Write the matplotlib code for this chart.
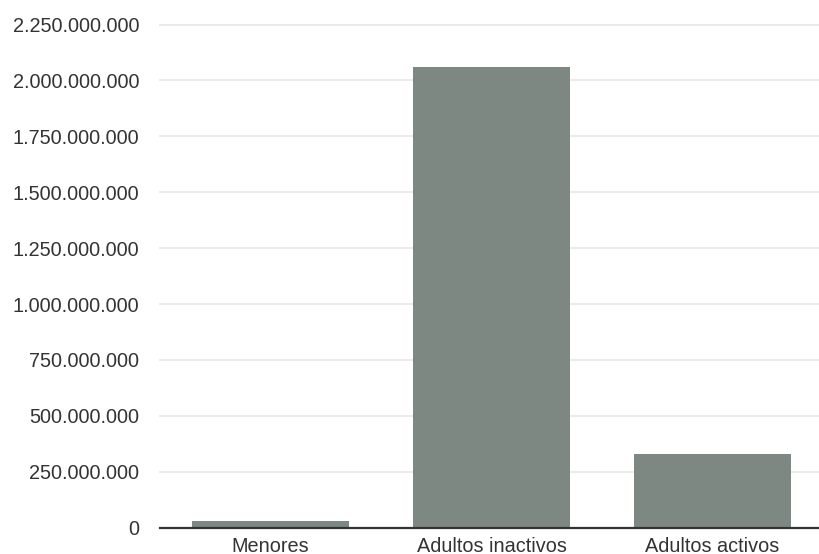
import matplotlib
matplotlib.use("Agg")
import matplotlib.pyplot as plt
from matplotlib.ticker import FuncFormatter

categories = ["Menores", "Adultos inactivos", "Adultos activos"]
values = [31_000_000, 2_060_000_000, 328_000_000]
yticks = [0, 250e6, 500e6, 750e6, 1000e6, 1250e6, 1500e6, 1750e6, 2000e6, 2250e6]

plt.rcParams['font.family'] = ['Liberation Sans', 'DejaVu Sans']

fig = plt.figure(figsize=(8.19, 5.54), dpi=100)
ax = fig.add_axes([160/819, 1 - 527.7/554, 1 - 160/819, (527.7 - 24.5)/554])

x = list(range(len(categories)))
ax.bar(x, values, width=0.71, color="#7e8883", zorder=2)
ax.set_xlim(-0.5, 2.482)
ax.set_ylim(0, 2250e6)
ax.set_yticks(yticks)

def fmt(v, pos):
    return f"{int(round(v)):,}".replace(",", ".")

ax.yaxis.set_major_formatter(FuncFormatter(fmt))
ax.set_xticks(x)
ax.set_xticklabels(categories)
ax.grid(axis="y", color="#e6e6e6", linewidth=1.2, zorder=0)
for gl in ax.get_ygridlines():
    gl.set_clip_on(False)
for s in ["top", "right", "left"]:
    ax.spines[s].set_visible(False)
ax.spines["bottom"].set_color("#333333")
ax.spines["bottom"].set_linewidth(1.6)
ax.spines["bottom"].set_zorder(3)
ax.tick_params(axis="y", length=0, pad=15, labelsize=14.3, labelcolor="#333333")
ax.tick_params(axis="x", length=0, pad=7, labelsize=14.3, labelcolor="#333333")

fig.savefig("out.png", dpi=100)
